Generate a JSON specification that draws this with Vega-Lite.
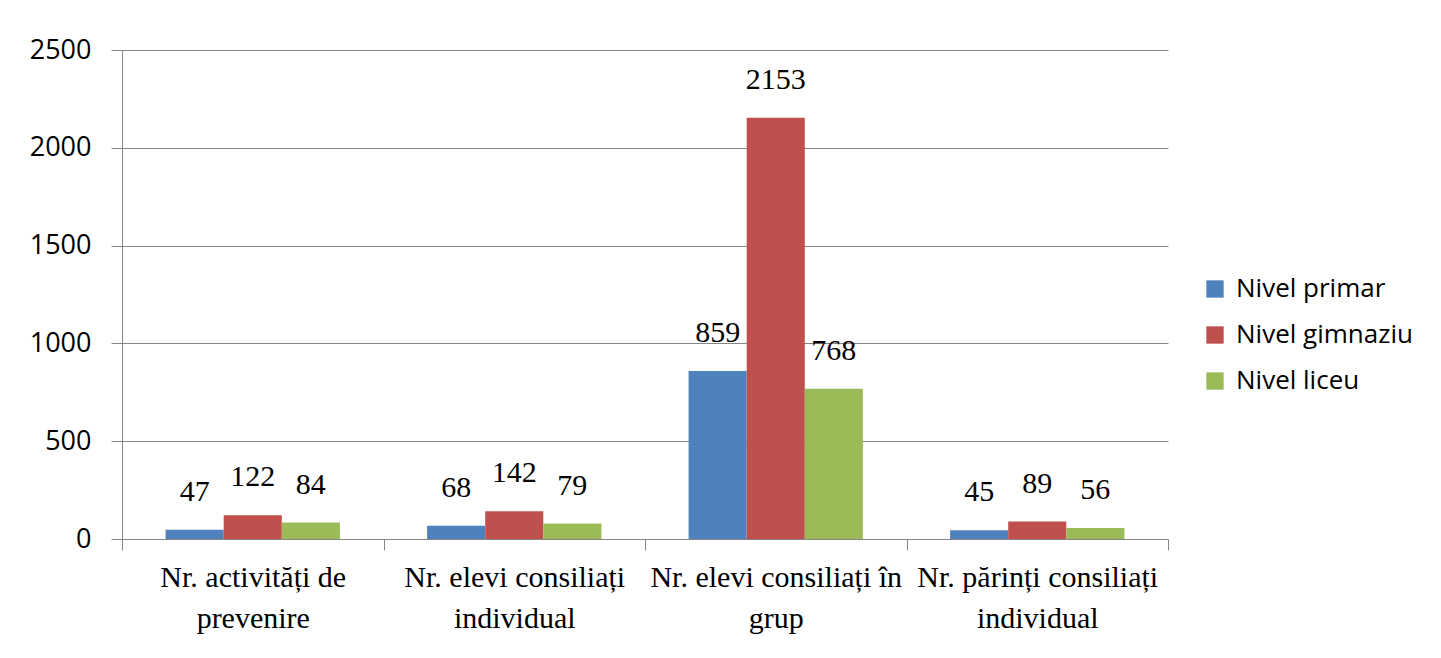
{
  "$schema": "https://vega.github.io/schema/vega-lite/v6.json",
  "width": 1046,
  "height": 489,
  "autosize": {"type": "none"},
  "padding": {"left": 122, "top": 50, "right": 273, "bottom": 119},
  "background": "white",
  "config": {"view": {"stroke": null}},
  "data": {
    "values": [
      {"cat": "Nr. activități de|prevenire", "nivel": "Nivel primar", "v": 47},
      {"cat": "Nr. activități de|prevenire", "nivel": "Nivel gimnaziu", "v": 122},
      {"cat": "Nr. activități de|prevenire", "nivel": "Nivel liceu", "v": 84},
      {"cat": "Nr. elevi consiliați|individual", "nivel": "Nivel primar", "v": 68},
      {"cat": "Nr. elevi consiliați|individual", "nivel": "Nivel gimnaziu", "v": 142},
      {"cat": "Nr. elevi consiliați|individual", "nivel": "Nivel liceu", "v": 79},
      {"cat": "Nr. elevi consiliați în|grup", "nivel": "Nivel primar", "v": 859},
      {"cat": "Nr. elevi consiliați în|grup", "nivel": "Nivel gimnaziu", "v": 2153},
      {"cat": "Nr. elevi consiliați în|grup", "nivel": "Nivel liceu", "v": 768},
      {"cat": "Nr. părinți consiliați|individual", "nivel": "Nivel primar", "v": 45},
      {"cat": "Nr. părinți consiliați|individual", "nivel": "Nivel gimnaziu", "v": 89},
      {"cat": "Nr. părinți consiliați|individual", "nivel": "Nivel liceu", "v": 56}
    ]
  },
  "encoding": {
    "x": {
      "field": "cat", "type": "nominal", "sort": null,
      "scale": {"paddingInner": 0, "paddingOuter": 0},
      "axis": {
        "title": null, "labelAngle": 0, "tickBand": "extent",
        "labelExpr": "split(datum.label, '|')",
        "labelFont": "Liberation Serif", "labelFontSize": 30, "labelLineHeight": 41,
        "labelColor": "#000000", "labelPadding": 12, "labelBaseline": "top",
        "tickSize": 11, "tickColor": "#868686", "domainColor": "#868686",
        "labelLimit": 400
      }
    },
    "xOffset": {
      "field": "nivel", "type": "nominal", "sort": ["Nivel primar", "Nivel gimnaziu", "Nivel liceu"],
      "scale": {"paddingInner": 0, "paddingOuter": 0.75}
    },
    "y": {
      "field": "v", "type": "quantitative",
      "scale": {"domain": [0, 2500]},
      "axis": {
        "title": null, "values": [0, 500, 1000, 1500, 2000, 2500], "format": "d",
        "labelFont": "Open Sans", "labelFontSize": 27, "labelColor": "#000000",
        "labelPadding": 20, "tickSize": 11, "tickColor": "#868686",
        "domainColor": "#868686", "gridColor": "#868686", "grid": true
      }
    }
  },
  "layer": [
    {
      "mark": {"type": "bar"},
      "encoding": {
        "color": {
          "field": "nivel", "type": "nominal",
          "sort": ["Nivel primar", "Nivel gimnaziu", "Nivel liceu"],
          "scale": {"domain": ["Nivel primar", "Nivel gimnaziu", "Nivel liceu"], "range": ["#4F81BD", "#C0504D", "#9BBB59"]},
          "legend": {
            "title": null, "orient": "none", "legendX": 1080, "legendY": 226,
            "symbolType": "square", "symbolSize": 300, "symbolStrokeWidth": 0,
            "labelFont": "Open Sans", "labelFontSize": 26, "labelColor": "#000000",
            "labelOffset": 8, "rowPadding": 20, "labelLimit": 300
          }
        }
      }
    },
    {
      "mark": {"type": "text", "baseline": "alphabetic", "dy": -29, "font": "Liberation Serif", "fontSize": 30, "color": "#000000"},
      "encoding": {"text": {"field": "v", "type": "quantitative"}}
    }
  ]
}
